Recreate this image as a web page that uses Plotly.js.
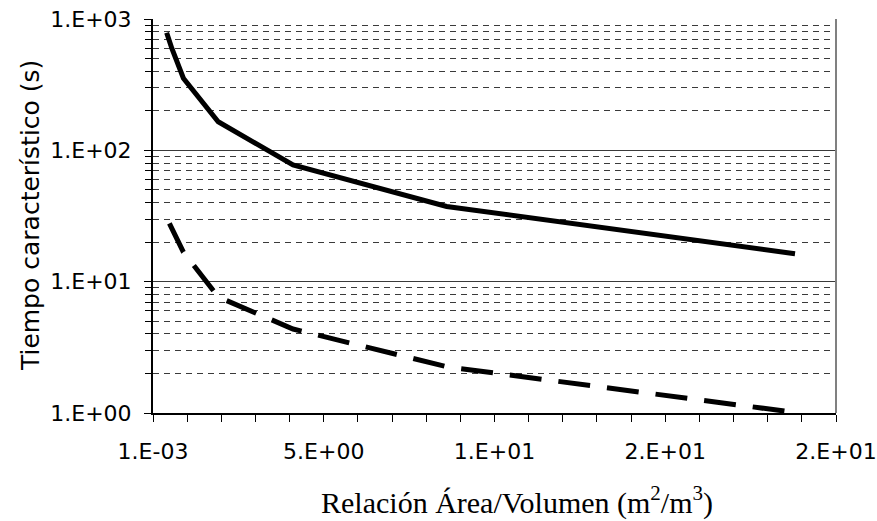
<!DOCTYPE html>
<html>
<head>
<meta charset="utf-8">
<script src="https://cdn.plot.ly/plotly-3.0.1.min.js"></script>
<style>html,body{margin:0;padding:0;background:#fff;}#chart{width:877px;height:521px;}</style>
</head>
<body>
<div id="chart"></div>
<script>
// Series 1 (solid)
const xSolid = [0.40, 0.55, 0.89, 1.91, 4.10, 8.60, 18.8];
const ySolid = [787, 599, 354, 165, 77.4, 37.4, 16.3];
// Series 2 (dashed)
const xDashed = [0.48, 0.89, 1.91, 4.10, 8.60, 18.8];
const yDashed = [27.8, 16.8, 7.65, 4.36, 2.25, 1.01];
// Axis ticks
const xTickVals = [0, 5, 10, 15, 20];
const xTickText = ["1.E-03", "5.E+00", "1.E+01", "2.E+01", "2.E+01"];
const yTickVals = [1, 10, 100, 1000];
const yTickText = ["1.E+00", "1.E+01", "1.E+02", "1.E+03"];
const yMinorVals = [];
[1, 10, 100].forEach(d => { for (let k = 2; k <= 9; k++) yMinorVals.push(k * d); });
const xTitle = 'Relación Área/Volumen (m<sup>2</sup>/m<sup>3</sup>)';
const yTitle = 'Tiempo característico (s)';

const traces = [
  {x: xSolid, y: ySolid, type: 'scatter', mode: 'lines',
   line: {color: '#000', width: 5}, showlegend: false, hoverinfo: 'skip'},
  {x: xDashed, y: yDashed, type: 'scatter', mode: 'lines',
   line: {color: '#000', width: 5, dash: '32px,17px'}, showlegend: false, hoverinfo: 'skip'}
];

const layout = {
  width: 877, height: 521,
  margin: {l: 153, r: 41, t: 19, b: 108},
  paper_bgcolor: '#fff', plot_bgcolor: '#fff',
  font: {family: 'DejaVu Sans', size: 20, color: '#000'},
  xaxis: {
    range: [0, 20], tickvals: xTickVals, ticktext: xTickText,
    showgrid: false, zeroline: false,
    showline: true, linecolor: '#000', linewidth: 2,
    ticks: 'outside', ticklen: 7, tickwidth: 1, tickcolor: '#000',
    ticklabelstandoff: 11,
    tickfont: {family: 'DejaVu Sans', size: 22, color: '#000'},
    minor: {dtick: 1, ticks: 'outside', ticklen: 7, tickwidth: 1, tickcolor: '#000', showgrid: false}
  },
  yaxis: {
    type: 'log', range: [0, 3], tickvals: yTickVals, ticktext: yTickText,
    showgrid: true, gridcolor: '#3a3a3a', gridwidth: 1,
    zeroline: false, showline: true, linecolor: '#000', linewidth: 2,
    ticks: 'outside', ticklen: 7, tickwidth: 1, tickcolor: '#000',
    ticklabelstandoff: 8,
    tickfont: {family: 'DejaVu Sans', size: 22, color: '#000'},
    minor: {tickvals: yMinorVals, ticks: 'outside', ticklen: 6, tickwidth: 1, tickcolor: '#000',
            showgrid: true, gridcolor: '#3a3a3a', gridwidth: 1, griddash: '6px,5px'}
  },
  annotations: [
    {text: xTitle, xref: 'paper', yref: 'paper', x: 0.533, y: -0.222,
     xanchor: 'center', yanchor: 'middle', showarrow: false,
     font: {family: 'Liberation Serif', size: 30, color: '#000'}},
    {text: yTitle, xref: 'paper', yref: 'paper', x: -0.18, y: 0.5,
     xanchor: 'center', yanchor: 'middle', showarrow: false, textangle: -90,
     font: {family: 'DejaVu Sans', size: 25, color: '#000'}}
  ],
  shapes: [
    {type: 'line', xref: 'paper', yref: 'paper', x0: 1, x1: 1, y0: 0, y1: 1,
     line: {color: '#808080', width: 2}}
  ]
};

Plotly.newPlot('chart', traces, layout, {staticPlot: true, displayModeBar: false});
</script>
</body>
</html>
